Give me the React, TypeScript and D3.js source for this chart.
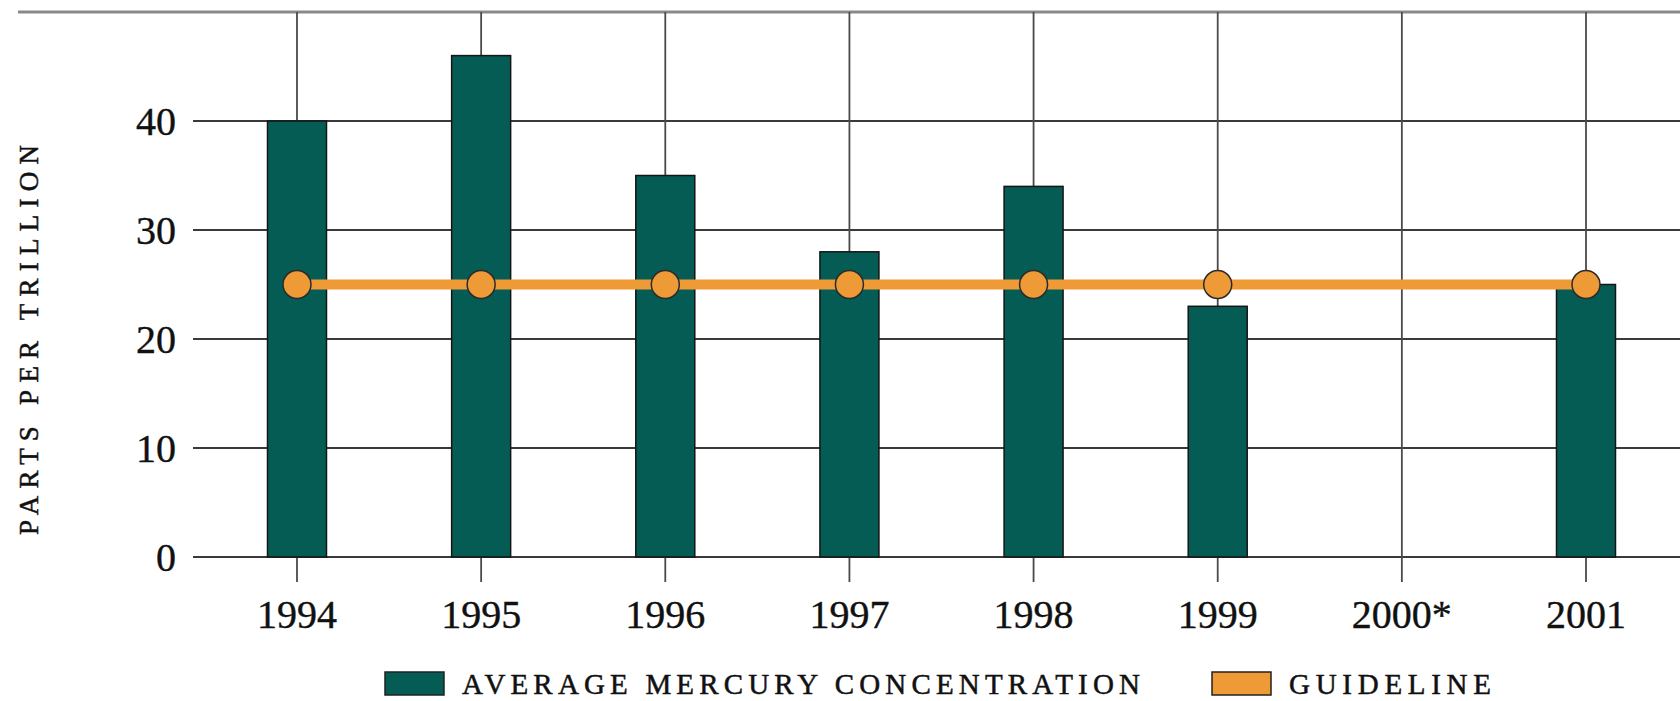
import { useEffect, useRef } from 'react';
import * as d3 from 'd3';

const years = ['1994', '1995', '1996', '1997', '1998', '1999', '2000*', '2001'];
const mercury: (number | null)[] = [40, 46, 35, 28, 34, 23, null, 25];
const guideline: (number | null)[] = [25, 25, 25, 25, 25, 25, null, 25];
const yTicks = [0, 10, 20, 30, 40];
const yMax = 50;
const yTitle = 'PARTS PER TRILLION';
const legendItems = ['AVERAGE MERCURY CONCENTRATION', 'GUIDELINE'];

const BAR_COLOR = '#045c54';
const GUIDE_COLOR = '#ee9a36';
const SERIF = '"Liberation Serif", "DejaVu Serif", serif';

export default function App() {
  const svgRef = useRef<SVGSVGElement>(null);

  useEffect(() => {
    if (!svgRef.current) return;
    const svg = d3.select(svgRef.current);
    svg.selectAll('*').remove();

    const width = 1680;
    const barWidth = 59;

    const x = d3.scalePoint<string>().domain(years).range([297, 1586]);
    const y = d3.scaleLinear().domain([0, yMax]).range([557, 12]);

    // horizontal grid
    svg.append('g')
      .selectAll('line')
      .data(yTicks)
      .enter()
      .append('line')
      .attr('x1', 193)
      .attr('x2', width)
      .attr('y1', d => y(d))
      .attr('y2', d => y(d))
      .style('stroke', '#3a3a3a')
      .style('stroke-width', 2);

    // top rule
    svg.append('line')
      .attr('x1', 18)
      .attr('x2', width)
      .attr('y1', y(yMax))
      .attr('y2', y(yMax))
      .style('stroke', '#8a8a8a')
      .style('stroke-width', 3);

    // vertical grid / ticks
    svg.append('g')
      .selectAll('line')
      .data(years)
      .enter()
      .append('line')
      .attr('x1', d => x(d) ?? 0)
      .attr('x2', d => x(d) ?? 0)
      .attr('y1', y(yMax))
      .attr('y2', y(0) + 25)
      .style('stroke', '#4a4a4a')
      .style('stroke-width', 1.8);

    // bars
    const barData = years
      .map((yr, i) => ({ yr, v: mercury[i] }))
      .filter(d => d.v != null) as { yr: string; v: number }[];

    svg.append('g')
      .selectAll('rect')
      .data(barData)
      .enter()
      .append('rect')
      .attr('x', d => (x(d.yr) ?? 0) - barWidth / 2)
      .attr('y', d => y(d.v))
      .attr('width', barWidth)
      .attr('height', d => y(0) - y(d.v))
      .style('fill', BAR_COLOR)
      .style('stroke', '#151515')
      .style('stroke-width', 1.5);

    // guideline
    const guideData = years
      .map((yr, i) => ({ yr, v: guideline[i] }))
      .filter(d => d.v != null) as { yr: string; v: number }[];

    const line = d3.line<{ yr: string; v: number }>()
      .x(d => x(d.yr) ?? 0)
      .y(d => y(d.v));

    svg.append('path')
      .datum(guideData)
      .attr('d', line)
      .style('fill', 'none')
      .style('stroke', GUIDE_COLOR)
      .style('stroke-width', 10);

    svg.append('g')
      .selectAll('circle')
      .data(guideData)
      .enter()
      .append('circle')
      .attr('cx', d => x(d.yr) ?? 0)
      .attr('cy', d => y(d.v))
      .attr('r', 14)
      .style('fill', GUIDE_COLOR)
      .style('stroke', '#2a2a2a')
      .style('stroke-width', 1.5);

    // y tick labels
    svg.append('g')
      .selectAll('text')
      .data(yTicks)
      .enter()
      .append('text')
      .attr('x', 176)
      .attr('y', d => y(d))
      .attr('dy', '0.34em')
      .attr('text-anchor', 'end')
      .style('font-family', SERIF)
      .style('font-size', '40px')
      .style('fill', '#111')
      .style('stroke', '#111')
      .style('stroke-width', 0.4)
      .text(d => String(d));

    // x tick labels
    svg.append('g')
      .selectAll('text')
      .data(years)
      .enter()
      .append('text')
      .attr('x', d => x(d) ?? 0)
      .attr('y', 628)
      .attr('text-anchor', 'middle')
      .style('font-family', SERIF)
      .style('font-size', '40px')
      .style('fill', '#111')
      .style('stroke', '#111')
      .style('stroke-width', 0.4)
      .text(d => d);

    // y title
    svg.append('text')
      .attr('transform', `translate(38,340) rotate(-90)`)
      .attr('text-anchor', 'middle')
      .attr('textLength', 390)
      .attr('lengthAdjust', 'spacing')
      .style('font-family', SERIF)
      .style('font-size', '27px')
      .style('fill', '#111')
      .style('stroke', '#111')
      .style('stroke-width', 0.5)
      .text(yTitle);

    // legend
    const legendColors = [BAR_COLOR, GUIDE_COLOR];
    const legendSwatchX = [385, 1212];
    const legendTextLen = [678, 202];
    legendItems.forEach((label, i) => {
      svg.append('rect')
        .attr('x', legendSwatchX[i])
        .attr('y', 672)
        .attr('width', 59)
        .attr('height', 23)
        .style('fill', legendColors[i])
        .style('stroke', '#222')
        .style('stroke-width', 1.5);
      svg.append('text')
        .attr('x', legendSwatchX[i] + 77)
        .attr('y', 694)
        .attr('textLength', legendTextLen[i])
        .attr('lengthAdjust', 'spacing')
        .style('font-family', SERIF)
        .style('font-size', '29px')
        .style('fill', '#111')
        .style('stroke', '#111')
        .style('stroke-width', 0.5)
        .text(label);
    });
  }, []);

  return (
    <svg
      ref={svgRef}
      width={1680}
      height={701}
      style={{ position: 'absolute', left: 0, top: 0, background: '#fff' }}
    />
  );
}
